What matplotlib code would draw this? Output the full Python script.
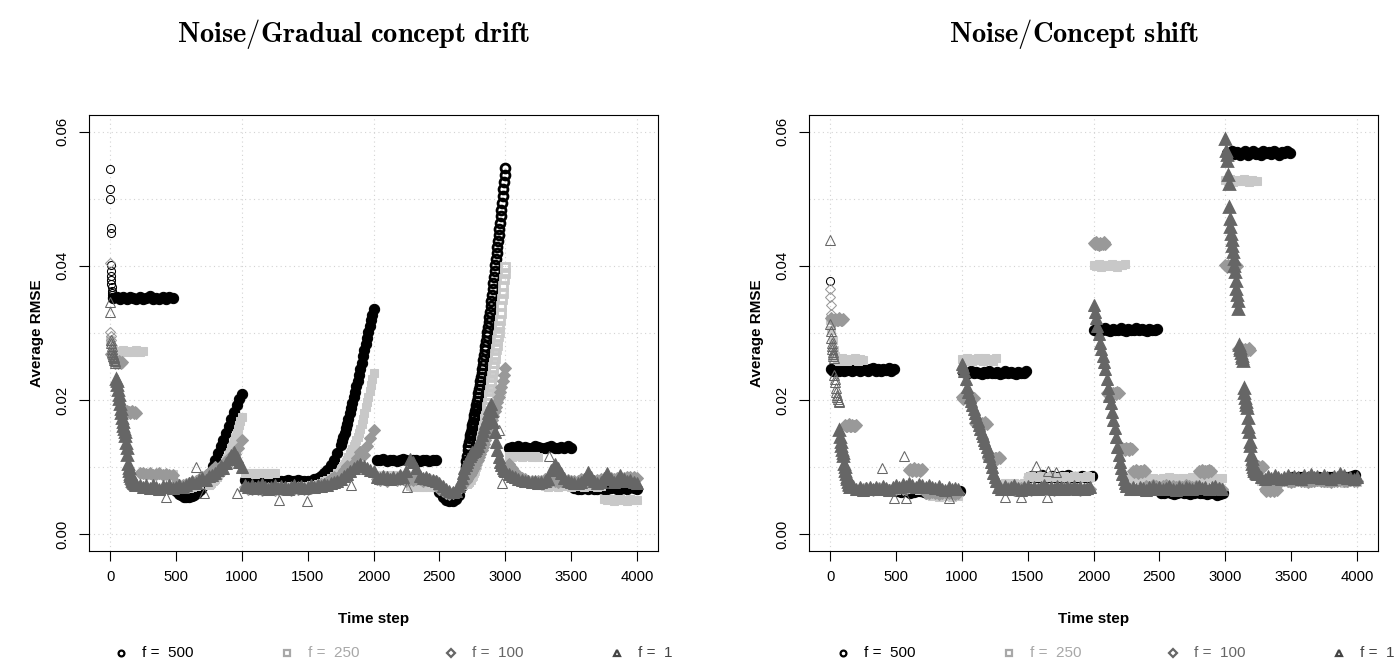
import numpy as np
import matplotlib
matplotlib.use("Agg")
import matplotlib.pyplot as plt

plt.rcParams["font.family"] = ["Liberation Sans", "DejaVu Sans"]
plt.rcParams["mathtext.fontset"] = "cm"

# each series is a list of (first time step, step, values) runs

drift_f500 = [
    (1, 1, [0.0544, 0.0515, 0.0500, 0.0456, 0.0449, 0.0402, 0.0392, 0.0385, 0.0379, 0.0373,
            0.0368, 0.0363, 0.0359, 0.0356, 0.0354]),
    (25, 25, [0.0352, 0.0354, 0.0351, 0.0353, 0.0350, 0.0354, 0.0352, 0.0351, 0.0353, 0.0350,
              0.0352, 0.0355, 0.0351, 0.0352, 0.0350, 0.0353, 0.0351, 0.0354, 0.0352]),
    (500, 20, [0.0064, 0.0060, 0.0058, 0.0056, 0.0056, 0.0056, 0.0057, 0.0059, 0.0062, 0.0066,
               0.0071, 0.0077, 0.0084, 0.0092, 0.0101, 0.0111, 0.0121, 0.0131, 0.0141, 0.0151,
               0.0161, 0.0172, 0.0182, 0.0192, 0.0201, 0.0209]),
    (1025, 25, [0.0081, 0.0080, 0.0079, 0.0081, 0.0080, 0.0078, 0.0080, 0.0081, 0.0079, 0.0080,
                0.0078, 0.0079, 0.0080, 0.0081, 0.0079, 0.0080, 0.0081, 0.0079, 0.0080]),
    (1500, 25, [0.0080, 0.0080, 0.0082, 0.0084, 0.0087, 0.0091, 0.0096, 0.0103, 0.0111, 0.0121]),
    (1750, 10, [0.0133, 0.0139, 0.0145, 0.0151, 0.0158, 0.0165, 0.0172, 0.0180, 0.0188, 0.0196,
                0.0204, 0.0212, 0.0221, 0.0229, 0.0238, 0.0247, 0.0256, 0.0265, 0.0274, 0.0283,
                0.0292, 0.0301, 0.0310, 0.0319, 0.0327, 0.0336]),
    (2025, 25, [0.0111, 0.0110, 0.0112, 0.0109, 0.0110, 0.0111, 0.0109, 0.0110, 0.0112, 0.0110,
                0.0109, 0.0111, 0.0110, 0.0109, 0.0111, 0.0110, 0.0109, 0.0110, 0.0111]),
    (2500, 25, [0.0063, 0.0056, 0.0051, 0.0049, 0.0049, 0.0052, 0.0058, 0.0072]),
    (2700, 5, [0.0100, 0.0109, 0.0117, 0.0125, 0.0132, 0.0138, 0.0143, 0.0148, 0.0153, 0.0158,
               0.0163, 0.0168, 0.0173, 0.0178, 0.0183, 0.0188, 0.0193, 0.0199, 0.0204, 0.0210,
               0.0216, 0.0222, 0.0228, 0.0234, 0.0240, 0.0246, 0.0253, 0.0260, 0.0267, 0.0274,
               0.0281, 0.0288, 0.0295, 0.0302, 0.0309, 0.0316, 0.0324, 0.0332, 0.0340, 0.0348,
               0.0356, 0.0365, 0.0374, 0.0383, 0.0392, 0.0401, 0.0410, 0.0419, 0.0428, 0.0437,
               0.0446, 0.0455, 0.0464, 0.0474, 0.0484, 0.0494, 0.0504, 0.0514, 0.0525, 0.0536,
               0.0546]),
    (3025, 25, [0.0129, 0.0130, 0.0128, 0.0131, 0.0129, 0.0130, 0.0128, 0.0129, 0.0131, 0.0130,
                0.0128, 0.0129, 0.0130, 0.0131, 0.0129, 0.0128, 0.0130, 0.0129, 0.0131, 0.0129]),
    (3525, 25, [0.0069, 0.0068, 0.0067, 0.0069, 0.0068, 0.0070, 0.0068, 0.0067, 0.0069, 0.0068,
                0.0067, 0.0069, 0.0070, 0.0068, 0.0067, 0.0069, 0.0068, 0.0070, 0.0069, 0.0068]),
]

drift_f250 = [
    (0, 25, [0.0290, 0.0276, 0.0273, 0.0272, 0.0274, 0.0271, 0.0273, 0.0272, 0.0274, 0.0272, 0.0273]),
    (275, 25, [0.0090, 0.0089, 0.0090, 0.0088, 0.0089, 0.0090, 0.0088, 0.0089, 0.0090, 0.0075,
               0.0072, 0.0070, 0.0069, 0.0069, 0.0070, 0.0072, 0.0075, 0.0078, 0.0082]),
    (750, 10, [0.0074, 0.0075, 0.0077, 0.0079, 0.0081, 0.0083, 0.0086, 0.0089, 0.0092, 0.0095,
               0.0098, 0.0102, 0.0106, 0.0110, 0.0114, 0.0118, 0.0123, 0.0128, 0.0133, 0.0139,
               0.0145, 0.0151, 0.0157, 0.0163, 0.0169, 0.0175]),
    (1025, 25, [0.0092, 0.0091, 0.0092, 0.0090, 0.0091, 0.0092, 0.0091, 0.0090, 0.0092, 0.0091]),
    (1275, 25, [0.0072, 0.0071, 0.0070, 0.0071, 0.0072, 0.0071, 0.0070, 0.0072, 0.0071, 0.0072,
                0.0073, 0.0074, 0.0075, 0.0077, 0.0079, 0.0081, 0.0084, 0.0087, 0.0091]),
    (1750, 10, [0.0096, 0.0099, 0.0102, 0.0105, 0.0108, 0.0111, 0.0115, 0.0119, 0.0123, 0.0127,
                0.0131, 0.0135, 0.0140, 0.0145, 0.0151, 0.0157, 0.0164, 0.0172, 0.0180, 0.0189,
                0.0197, 0.0205, 0.0213, 0.0222, 0.0231, 0.0240]),
    (2025, 25, [0.0089, 0.0088, 0.0089, 0.0087, 0.0088, 0.0089, 0.0088, 0.0087, 0.0089, 0.0088,
                0.0072, 0.0071, 0.0072, 0.0070, 0.0071, 0.0072, 0.0071, 0.0070, 0.0071]),
    (2500, 25, [0.0070, 0.0066, 0.0063, 0.0062, 0.0063, 0.0065, 0.0069, 0.0074]),
    (2700, 5, [0.0076, 0.0077, 0.0078, 0.0079, 0.0080, 0.0082, 0.0083, 0.0085, 0.0087, 0.0089,
               0.0091, 0.0093, 0.0096, 0.0099, 0.0102, 0.0105, 0.0108, 0.0111, 0.0115, 0.0119,
               0.0123, 0.0127, 0.0131, 0.0136, 0.0141, 0.0146, 0.0150, 0.0155, 0.0161, 0.0166,
               0.0172, 0.0177, 0.0183, 0.0189, 0.0195, 0.0202, 0.0208, 0.0215, 0.0222, 0.0229,
               0.0236, 0.0243, 0.0249, 0.0256, 0.0262, 0.0269, 0.0276, 0.0282, 0.0289, 0.0295,
               0.0302, 0.0311, 0.0320, 0.0330, 0.0340, 0.0350, 0.0360, 0.0370, 0.0380, 0.0390,
               0.0399]),
    (3025, 25, [0.0116, 0.0115, 0.0117, 0.0116, 0.0115, 0.0116, 0.0117, 0.0115, 0.0116, 0.0115]),
    (3275, 25, [0.0073, 0.0072, 0.0071, 0.0072, 0.0073, 0.0071, 0.0072, 0.0073, 0.0072, 0.0071,
                0.0072, 0.0073, 0.0072, 0.0071, 0.0072, 0.0073, 0.0072, 0.0071, 0.0072]),
    (3750, 25, [0.0052, 0.0051, 0.0052, 0.0050, 0.0051, 0.0052, 0.0051, 0.0050, 0.0052, 0.0051, 0.0051]),
]

drift_f100 = [
    (1, 2, [0.0405, 0.0302, 0.0296, 0.0290, 0.0282]),
    (10, 10, [0.0268, 0.0262, 0.0258, 0.0256, 0.0257, 0.0255, 0.0258, 0.0256, 0.0257]),
    (100, 10, [0.0184, 0.0182, 0.0181, 0.0183, 0.0182, 0.0180, 0.0182, 0.0183, 0.0181, 0.0182, 0.0181]),
    (225, 25, [0.0092, 0.0091, 0.0090, 0.0091, 0.0089, 0.0090, 0.0091, 0.0089, 0.0090, 0.0088,
               0.0089, 0.0076, 0.0074, 0.0074, 0.0075, 0.0076, 0.0078, 0.0080, 0.0083, 0.0086]),
    (725, 25, [0.0089, 0.0092, 0.0096, 0.0100, 0.0098, 0.0103, 0.0108, 0.0114, 0.0110, 0.0119,
               0.0128, 0.0140]),
    (1025, 25, [0.0070, 0.0068, 0.0067, 0.0069, 0.0068, 0.0066, 0.0068, 0.0069, 0.0067, 0.0066,
                0.0068, 0.0067, 0.0069, 0.0068, 0.0066, 0.0067, 0.0068, 0.0069, 0.0067]),
    (1500, 25, [0.0068, 0.0069, 0.0071, 0.0073, 0.0075, 0.0074, 0.0078, 0.0082, 0.0086, 0.0084,
                0.0090, 0.0096, 0.0102, 0.0098, 0.0106, 0.0114, 0.0122, 0.0118, 0.0131, 0.0143,
                0.0155]),
    (2025, 25, [0.0083, 0.0081, 0.0082, 0.0080, 0.0083, 0.0082, 0.0081, 0.0083, 0.0082, 0.0080,
                0.0082, 0.0081, 0.0083, 0.0082, 0.0080, 0.0081, 0.0082, 0.0080, 0.0079]),
    (2500, 25, [0.0068, 0.0064, 0.0061, 0.0060, 0.0061, 0.0063, 0.0067, 0.0073, 0.0080]),
    (2710, 10, [0.0083, 0.0086, 0.0089, 0.0092, 0.0095, 0.0099, 0.0103, 0.0107, 0.0111, 0.0115,
                0.0120, 0.0125, 0.0130, 0.0135, 0.0141, 0.0147, 0.0153, 0.0159, 0.0165, 0.0171,
                0.0177, 0.0183, 0.0190, 0.0197, 0.0204, 0.0212, 0.0220, 0.0228, 0.0238, 0.0248]),
    (3025, 25, [0.0105, 0.0098, 0.0092, 0.0088, 0.0084, 0.0082, 0.0080, 0.0079, 0.0078, 0.0079,
                0.0080, 0.0082, 0.0081, 0.0080, 0.0079, 0.0078, 0.0079, 0.0080, 0.0081, 0.0080,
                0.0079, 0.0080, 0.0082, 0.0081, 0.0080, 0.0079, 0.0080, 0.0081, 0.0082, 0.0081,
                0.0083, 0.0084, 0.0083, 0.0084, 0.0085, 0.0084, 0.0085, 0.0086, 0.0085, 0.0084]),
]

drift_f1 = [
    (0, 3, [0.0346, 0.0332, 0.0290, 0.0285, 0.0280, 0.0276, 0.0272, 0.0269, 0.0266, 0.0264,
            0.0262, 0.0260, 0.0258, 0.0256]),
    (45, 5, [0.0232, 0.0228, 0.0222, 0.0215, 0.0208, 0.0201, 0.0194, 0.0187, 0.0180, 0.0174,
             0.0168, 0.0162, 0.0157, 0.0152, 0.0146, 0.0136, 0.0128, 0.0118, 0.0104, 0.0098,
             0.0094, 0.0090, 0.0087, 0.0084, 0.0082, 0.0080, 0.0078, 0.0077, 0.0076, 0.0075,
             0.0074, 0.0074]),
    (225, 25, [0.0073, 0.0070, 0.0074, 0.0069, 0.0073, 0.0071, 0.0068, 0.0072, 0.0070, 0.0074,
               0.0069, 0.0071, 0.0073, 0.0070, 0.0074, 0.0076, 0.0079, 0.0076, 0.0081, 0.0084,
               0.0081, 0.0087, 0.0089]),
    (800, 20, [0.0092, 0.0096, 0.0101, 0.0098, 0.0106, 0.0112, 0.0118, 0.0123, 0.0115, 0.0108, 0.0100]),
    (1025, 25, [0.0074, 0.0071, 0.0073, 0.0069, 0.0072, 0.0075, 0.0070, 0.0068, 0.0071, 0.0073,
                0.0069, 0.0072, 0.0070, 0.0067, 0.0071, 0.0074, 0.0070, 0.0072, 0.0069, 0.0071,
                0.0073, 0.0070, 0.0074, 0.0072, 0.0075, 0.0073, 0.0076, 0.0078]),
    (1725, 25, [0.0080, 0.0083, 0.0087, 0.0090, 0.0094, 0.0098, 0.0101, 0.0104, 0.0102, 0.0099,
                0.0096, 0.0094]),
    (2025, 25, [0.0086, 0.0084, 0.0087, 0.0085, 0.0083, 0.0086, 0.0084, 0.0088, 0.0085, 0.0095,
                0.0112, 0.0107, 0.0098, 0.0087, 0.0084, 0.0085, 0.0082, 0.0081, 0.0079, 0.0077]),
    (2525, 25, [0.0072, 0.0068, 0.0064, 0.0063, 0.0065, 0.0072]),
    (2660, 10, [0.0078, 0.0084, 0.0091, 0.0098, 0.0103, 0.0108, 0.0112, 0.0116, 0.0119, 0.0122,
                0.0124, 0.0126, 0.0128, 0.0132, 0.0137, 0.0142, 0.0148, 0.0154, 0.0160, 0.0166,
                0.0173, 0.0180, 0.0188, 0.0194, 0.0183, 0.0168, 0.0152, 0.0138, 0.0125, 0.0115,
                0.0108, 0.0103, 0.0099, 0.0096, 0.0094]),
    (3025, 25, [0.0090, 0.0087, 0.0085, 0.0083, 0.0081, 0.0080, 0.0079, 0.0078, 0.0079, 0.0077,
                0.0078, 0.0080, 0.0083, 0.0096, 0.0104, 0.0099, 0.0092, 0.0084, 0.0080, 0.0078,
                0.0077, 0.0076, 0.0078, 0.0082, 0.0093, 0.0085, 0.0079, 0.0077, 0.0078, 0.0084,
                0.0092, 0.0082, 0.0078, 0.0080, 0.0089, 0.0083, 0.0079, 0.0081, 0.0078, 0.0077]),
]
drift_f1_lone_t = [422, 650, 713, 966, 1283, 1498, 1826, 2253, 2950, 2975, 3332]
drift_f1_lone_v = [0.0056, 0.0100, 0.0061, 0.0061, 0.0051, 0.0049, 0.0073, 0.0070, 0.0155, 0.0077, 0.0117]

shift_f500 = [
    (0, 1, [0.0378]),
    (5, 20, [0.0246, 0.0244, 0.0245, 0.0243, 0.0246, 0.0244, 0.0245, 0.0247, 0.0244, 0.0245,
             0.0246, 0.0243, 0.0245, 0.0247, 0.0244, 0.0246, 0.0248, 0.0244, 0.0246, 0.0243,
             0.0247, 0.0245, 0.0248, 0.0244, 0.0246]),
    (510, 25, [0.0064, 0.0063, 0.0065, 0.0064, 0.0062, 0.0063, 0.0065, 0.0064, 0.0063, 0.0062,
               0.0064, 0.0065, 0.0063, 0.0064, 0.0062, 0.0063, 0.0064, 0.0065, 0.0063, 0.0064]),
    (1010, 20, [0.0242, 0.0240, 0.0241, 0.0243, 0.0240, 0.0242, 0.0241, 0.0239, 0.0242, 0.0240,
                0.0243, 0.0241, 0.0240, 0.0242, 0.0239, 0.0241, 0.0243, 0.0240, 0.0242, 0.0241,
                0.0239, 0.0242, 0.0240, 0.0241, 0.0243]),
    (1510, 25, [0.0086, 0.0087, 0.0085, 0.0086, 0.0088, 0.0086, 0.0085, 0.0087, 0.0086, 0.0085,
                0.0087, 0.0086, 0.0088, 0.0086, 0.0085, 0.0086, 0.0087, 0.0085, 0.0086, 0.0087]),
    (2005, 20, [0.0305, 0.0303, 0.0306, 0.0304, 0.0307, 0.0305, 0.0303, 0.0306, 0.0305, 0.0304,
                0.0307, 0.0305, 0.0303, 0.0306, 0.0304, 0.0305, 0.0307, 0.0304, 0.0306, 0.0305,
                0.0303, 0.0306, 0.0304, 0.0305, 0.0306]),
    (2510, 25, [0.0062, 0.0061, 0.0063, 0.0062, 0.0060, 0.0062, 0.0063, 0.0061, 0.0062, 0.0060,
                0.0061, 0.0063, 0.0062, 0.0061, 0.0060, 0.0062, 0.0061, 0.0059, 0.0060, 0.0061]),
    (3010, 20, [0.0569, 0.0566, 0.0571, 0.0567, 0.0570, 0.0565, 0.0569, 0.0572, 0.0566, 0.0568,
                0.0571, 0.0567, 0.0569, 0.0566, 0.0572, 0.0568, 0.0570, 0.0567, 0.0571, 0.0569,
                0.0566, 0.0570, 0.0568, 0.0571, 0.0569]),
    (3510, 25, [0.0085, 0.0084, 0.0086, 0.0085, 0.0083, 0.0085, 0.0086, 0.0084, 0.0085, 0.0083,
                0.0084, 0.0086, 0.0085, 0.0084, 0.0083, 0.0085, 0.0086, 0.0085, 0.0087, 0.0088]),
]

shift_f250 = [
    (0, 10, [0.0320, 0.0305, 0.0290, 0.0275, 0.0266]),
    (50, 20, [0.0261, 0.0259, 0.0262, 0.0260, 0.0258, 0.0261, 0.0260, 0.0262, 0.0259, 0.0261, 0.0260]),
    (275, 25, [0.0068, 0.0067, 0.0069, 0.0068, 0.0066, 0.0068, 0.0069, 0.0067, 0.0068, 0.0066,
               0.0068, 0.0067, 0.0069, 0.0068, 0.0067, 0.0068, 0.0066, 0.0068, 0.0067]),
    (750, 25, [0.0058, 0.0057, 0.0058, 0.0056, 0.0057, 0.0058, 0.0057, 0.0056, 0.0058, 0.0057]),
    (1000, 20, [0.0261, 0.0259, 0.0262, 0.0260, 0.0258, 0.0261, 0.0263, 0.0260, 0.0259, 0.0262,
                0.0260, 0.0261, 0.0259, 0.0262]),
    (1275, 25, [0.0075, 0.0074, 0.0076, 0.0075, 0.0074, 0.0076, 0.0075, 0.0074, 0.0076, 0.0086,
                0.0087, 0.0085, 0.0086, 0.0087, 0.0086, 0.0085, 0.0087, 0.0086, 0.0085, 0.0086,
                0.0087, 0.0086, 0.0085, 0.0087, 0.0086, 0.0085, 0.0086, 0.0087, 0.0086]),
    (2000, 20, [0.0402, 0.0400, 0.0403, 0.0399, 0.0401, 0.0402, 0.0400, 0.0403, 0.0401, 0.0399,
                0.0402, 0.0401, 0.0403]),
    (2250, 25, [0.0084, 0.0083, 0.0085, 0.0084, 0.0083, 0.0084, 0.0085, 0.0083, 0.0084, 0.0083,
                0.0082, 0.0084, 0.0083, 0.0085, 0.0084, 0.0083, 0.0082, 0.0084, 0.0083, 0.0084,
                0.0085, 0.0083, 0.0084, 0.0082, 0.0083, 0.0084, 0.0085, 0.0084, 0.0083, 0.0084]),
    (3000, 20, [0.0528, 0.0526, 0.0529, 0.0525, 0.0527, 0.0528, 0.0526, 0.0529, 0.0527, 0.0525,
                0.0528, 0.0527, 0.0526]),
    (3275, 25, [0.0079, 0.0078, 0.0080, 0.0079, 0.0077, 0.0079, 0.0080, 0.0078, 0.0079, 0.0077,
                0.0078, 0.0080, 0.0079, 0.0078, 0.0077, 0.0079, 0.0080, 0.0078, 0.0079, 0.0078,
                0.0077, 0.0079, 0.0080, 0.0078, 0.0079, 0.0077, 0.0078, 0.0080, 0.0079, 0.0078]),
]

shift_f100 = [
    (0, 2, [0.0366, 0.0354, 0.0341, 0.0329]),
    (10, 10, [0.0322, 0.0320, 0.0318, 0.0321, 0.0319, 0.0320, 0.0322, 0.0319, 0.0320, 0.0321]),
    (110, 10, [0.0163, 0.0161, 0.0162, 0.0164, 0.0162, 0.0161, 0.0163, 0.0162, 0.0161, 0.0163]),
    (225, 25, [0.0068, 0.0067, 0.0069, 0.0068, 0.0066, 0.0068, 0.0069, 0.0067, 0.0068, 0.0066,
               0.0068, 0.0067, 0.0069, 0.0068, 0.0067]),
    (600, 10, [0.0096, 0.0097, 0.0095, 0.0096, 0.0098, 0.0095, 0.0096, 0.0097, 0.0095, 0.0096, 0.0097]),
    (725, 25, [0.0062, 0.0061, 0.0063, 0.0062, 0.0060, 0.0062, 0.0063, 0.0061, 0.0062, 0.0060, 0.0062]),
    (1000, 10, [0.0204, 0.0202, 0.0205, 0.0203, 0.0201, 0.0204, 0.0203, 0.0202, 0.0205, 0.0203]),
    (1100, 10, [0.0166, 0.0164, 0.0167, 0.0165, 0.0163, 0.0166, 0.0165, 0.0164, 0.0167, 0.0165]),
    (1200, 10, [0.0114, 0.0112, 0.0115, 0.0113, 0.0111, 0.0114, 0.0113, 0.0112, 0.0115, 0.0113]),
    (1300, 25, [0.0068, 0.0067, 0.0069, 0.0068, 0.0066, 0.0068, 0.0069, 0.0067, 0.0068, 0.0066,
                0.0068, 0.0067, 0.0069, 0.0068, 0.0067, 0.0068, 0.0066, 0.0068, 0.0067, 0.0069,
                0.0068, 0.0067, 0.0069, 0.0068, 0.0066, 0.0068, 0.0067, 0.0068]),
    (2000, 10, [0.0434, 0.0432, 0.0435, 0.0433, 0.0431, 0.0434, 0.0433, 0.0432, 0.0435, 0.0433]),
    (2100, 10, [0.0211, 0.0209, 0.0212, 0.0210, 0.0208, 0.0211, 0.0210, 0.0209, 0.0212, 0.0210]),
    (2200, 10, [0.0128, 0.0126, 0.0129, 0.0127, 0.0125, 0.0128, 0.0127, 0.0126, 0.0129, 0.0127]),
    (2300, 10, [0.0095, 0.0093, 0.0096, 0.0094, 0.0092, 0.0095, 0.0094, 0.0093, 0.0096, 0.0094]),
    (2400, 25, [0.0072, 0.0071, 0.0073, 0.0072, 0.0070, 0.0072, 0.0073, 0.0071, 0.0072, 0.0070,
                0.0072, 0.0071, 0.0073, 0.0072, 0.0071, 0.0072]),
    (2800, 10, [0.0095, 0.0093, 0.0096, 0.0094, 0.0092, 0.0095, 0.0094, 0.0093, 0.0096, 0.0094]),
    (2900, 25, [0.0068, 0.0067, 0.0069, 0.0068]),
    (3000, 10, [0.0401, 0.0399, 0.0402, 0.0400, 0.0398, 0.0401, 0.0400, 0.0399, 0.0402, 0.0400]),
    (3100, 10, [0.0276, 0.0274, 0.0277, 0.0275, 0.0273, 0.0276, 0.0275, 0.0274, 0.0277, 0.0275]),
    (3200, 10, [0.0101, 0.0099, 0.0102, 0.0100, 0.0098, 0.0101, 0.0100, 0.0099, 0.0102, 0.0100]),
    (3300, 10, [0.0067, 0.0065, 0.0068, 0.0066, 0.0064, 0.0067, 0.0066, 0.0065, 0.0068, 0.0066]),
    (3400, 25, [0.0080, 0.0079, 0.0081, 0.0080, 0.0078, 0.0080, 0.0081, 0.0079, 0.0080, 0.0078,
                0.0080, 0.0079, 0.0081, 0.0080, 0.0079, 0.0080, 0.0078, 0.0080, 0.0079, 0.0081,
                0.0080, 0.0079, 0.0081, 0.0080, 0.0079]),
]

shift_f1 = [
    (2, 3, [0.0314, 0.0303, 0.0292, 0.0285, 0.0280, 0.0276, 0.0272, 0.0268, 0.0265, 0.0262]),
    (32, 4, [0.0237, 0.0232, 0.0227, 0.0218, 0.0212, 0.0207, 0.0204, 0.0201, 0.0199, 0.0197]),
    (70, 5, [0.0155, 0.0145, 0.0138, 0.0132, 0.0126, 0.0121, 0.0117, 0.0105, 0.0100, 0.0095,
             0.0090, 0.0086, 0.0082, 0.0078, 0.0075, 0.0073, 0.0071, 0.0070]),
    (175, 25, [0.0072, 0.0068, 0.0070, 0.0066, 0.0069, 0.0071, 0.0067, 0.0070, 0.0068, 0.0072,
               0.0069, 0.0066, 0.0070, 0.0073, 0.0071, 0.0075, 0.0072, 0.0076, 0.0074, 0.0071,
               0.0075, 0.0073, 0.0070, 0.0074, 0.0071, 0.0069, 0.0072, 0.0068, 0.0066, 0.0070,
               0.0067, 0.0069, 0.0068]),
    (1000, 10, [0.0254, 0.0250, 0.0244, 0.0232, 0.0220, 0.0212, 0.0205, 0.0199, 0.0193, 0.0187,
                0.0181, 0.0175, 0.0169, 0.0163, 0.0157, 0.0151, 0.0146, 0.0141, 0.0136, 0.0130,
                0.0124, 0.0116, 0.0108, 0.0100, 0.0092, 0.0086, 0.0080]),
    (1275, 25, [0.0071, 0.0068, 0.0072, 0.0067, 0.0070, 0.0073, 0.0069, 0.0066, 0.0070, 0.0072,
                0.0068, 0.0071, 0.0067, 0.0070, 0.0073, 0.0069, 0.0071, 0.0068, 0.0072, 0.0070,
                0.0067, 0.0071, 0.0069, 0.0072, 0.0068, 0.0070, 0.0067, 0.0069, 0.0071]),
    (2000, 10, [0.0341, 0.0332, 0.0322, 0.0310, 0.0298, 0.0285, 0.0276, 0.0266, 0.0257, 0.0247,
                0.0232, 0.0218, 0.0206, 0.0195, 0.0182, 0.0170, 0.0158, 0.0145, 0.0130, 0.0118,
                0.0108, 0.0098, 0.0090, 0.0082, 0.0076]),
    (2250, 25, [0.0072, 0.0068, 0.0070, 0.0067, 0.0071, 0.0069, 0.0066, 0.0070, 0.0072, 0.0068,
                0.0070, 0.0067, 0.0069, 0.0072, 0.0068, 0.0066, 0.0070, 0.0068, 0.0071, 0.0069,
                0.0067, 0.0070, 0.0072, 0.0069, 0.0071, 0.0068, 0.0070, 0.0072, 0.0069, 0.0067]),
    (3000, 5, [0.0589, 0.0572, 0.0565, 0.0556, 0.0535, 0.0522, 0.0488, 0.0470, 0.0458, 0.0447,
               0.0438, 0.0430, 0.0421, 0.0410, 0.0400, 0.0391, 0.0377, 0.0366, 0.0356, 0.0348,
               0.0336, 0.0282, 0.0278, 0.0274, 0.0270, 0.0266, 0.0262, 0.0258, 0.0218, 0.0210,
               0.0203, 0.0197, 0.0192, 0.0188, 0.0173, 0.0160, 0.0152, 0.0138, 0.0132, 0.0118,
               0.0112, 0.0105, 0.0100, 0.0097, 0.0095, 0.0094, 0.0093, 0.0092, 0.0091, 0.0090,
               0.0090]),
    (3275, 25, [0.0086, 0.0083, 0.0087, 0.0084, 0.0088, 0.0085, 0.0082, 0.0086, 0.0089, 0.0084,
                0.0087, 0.0085, 0.0083, 0.0088, 0.0086, 0.0090, 0.0085, 0.0087, 0.0084, 0.0089,
                0.0086, 0.0083, 0.0087, 0.0085, 0.0092, 0.0088, 0.0084, 0.0086, 0.0083, 0.0085]),
]
shift_f1_lone_t = [0, 397, 486, 562, 575, 904, 1330, 1450, 1562, 1650, 1651, 1719]
shift_f1_lone_v = [0.0439, 0.0098, 0.0054, 0.0116, 0.0054, 0.0054, 0.0055, 0.0055, 0.0101, 0.0055,
                   0.0094, 0.0093]

labels = ["f =  500", "f =  250", "f =  100", "f =  1"]
markers = ["o", "s", "D", "^"]
open_sizes = [5.8, 5.0, 4.8, 6.6]
band_sizes = [7.4, 6.4, 6.0, 8.0]
colors = ["black", "#c8c8c8", "#999999", "#666666"]
key_colors = ["black", "#a8a8a8", "#666666", "#444444"]


def expand(runs):
    ts, vs = [], []
    for t0, dt, vals in runs:
        ts.append(t0 + dt * np.arange(len(vals)))
        vs.append(np.asarray(vals))
    return np.concatenate(ts), np.concatenate(vs)


def draw_panel(ax, series, lone):
    for runs, marker, ms, bs, color in zip(series, markers, open_sizes, band_sizes, colors):
        # packed runs overlap into solid bands, steep chains get heavy rims,
        # the first few points stay thin and open
        packed = [r for r in runs if r[1] >= 10]
        chain = [r for r in runs if r[1] == 5]
        sparse = [r for r in runs if r[1] < 5]
        if packed:
            t, v = expand(packed)
            ax.plot(t, v, linestyle="none", marker=marker, ms=bs, mfc=color,
                    mec=color, mew=0.75)
        if chain:
            t, v = expand(chain)
            face = color if marker == "^" else "none"
            ax.plot(t, v, linestyle="none", marker=marker, ms=ms + 0.6, mfc=face,
                    mec=color, mew=2.0)
        if sparse:
            t, v = expand(sparse)
            ax.plot(t, v, linestyle="none", marker=marker, ms=ms, mfc="none",
                    mec=color, mew=0.75)
        if color == colors[-1]:
            ax.plot(lone[0], lone[1], linestyle="none", marker=marker, ms=ms, mfc="none",
                    mec=color, mew=0.75)
    ax.set_xlim(-160, 4160)
    ax.set_ylim(-0.0025, 0.0625)
    for gx in range(0, 4001, 1000):
        ax.axvline(gx, color="#d3d3d3", lw=0.8, ls=(0, (1, 3)), zorder=0)
    for gy in np.arange(0, 0.061, 0.01):
        ax.axhline(gy, color="#d3d3d3", lw=0.8, ls=(0, (1, 3)), zorder=0)
    ax.set_xticks(range(0, 4001, 500))
    ax.set_xticklabels([str(x) for x in range(0, 4001, 500)])
    ax.set_yticks([0, 0.02, 0.04, 0.06])
    ax.set_yticklabels(["0.00", "0.02", "0.04", "0.06"], rotation=90, va="center")
    ax.tick_params(direction="out", length=7, width=0.8, labelsize=10.7, pad=7)
    for s in ax.spines.values():
        s.set_linewidth(0.8)
    ax.text(0.5, -0.155, "Time step", transform=ax.transAxes, ha="center", va="center",
            fontsize=11, fontweight="bold")
    ax.text(-0.091, 0.5, "Average RMSE", transform=ax.transAxes, ha="center", va="center",
            rotation=90, fontsize=11, fontweight="bold")


fig = plt.figure(figsize=(13.99, 6.66), dpi=100)
ax1 = fig.add_axes([89 / 1399, 1 - 551 / 666, 569 / 1399, 436 / 666])
ax2 = fig.add_axes([809 / 1399, 1 - 551 / 666, 569 / 1399, 436 / 666])

draw_panel(ax1, [drift_f500, drift_f250, drift_f100, drift_f1], (drift_f1_lone_t, drift_f1_lone_v))
draw_panel(ax2, [shift_f500, shift_f250, shift_f100, shift_f1], (shift_f1_lone_t, shift_f1_lone_v))

# legend row under each panel, R style
for ax, xs in [(ax1, [0.056, 0.348, 0.636, 0.928]), (ax2, [0.060, 0.352, 0.640, 0.932])]:
    for x, lab, m, c in zip(xs, labels, markers, key_colors):
        ax.plot([x], [-0.234], transform=ax.transAxes, clip_on=False, linestyle="none",
                marker=m, ms=4.2 if m != "^" else 5.0, mfc="none", mec=c, mew=1.6)
        ax.text(x + 0.037, -0.234, lab, transform=ax.transAxes, ha="left", va="center",
                fontsize=11, color=c)

fig.text(354 / 1399, 1 - 42 / 666, r"$\mathbf{Noise/Gradual\ concept\ drift}$",
         ha="center", va="baseline", fontsize=20.5)
fig.text(1074 / 1399, 1 - 42 / 666, r"$\mathbf{Noise/Concept\ shift}$",
         ha="center", va="baseline", fontsize=20.5)

fig.savefig("out.png", dpi=100)
